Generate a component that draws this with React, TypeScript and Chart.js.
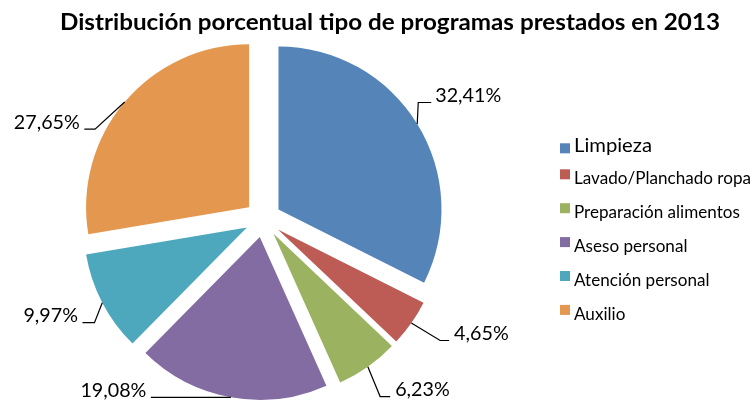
import React, { useEffect, useRef } from 'react';
import { Chart, registerables } from 'chart.js';

Chart.register(...registerables);

// ---- data ----
const title = 'Distribución porcentual tipo de programas prestados en 2013';
const categories = [
  'Limpieza',
  'Lavado/Planchado ropa',
  'Preparación alimentos',
  'Aseso personal',
  'Atención personal',
  'Auxilio',
];
const values = [32.41, 4.65, 6.23, 19.08, 9.97, 27.65];

// ---- styles ----
const colors = ['#5484B8', '#BD5C55', '#9BB360', '#836CA2', '#4EA8BD', '#E4984F'];
const EXPLODE = 18.2;
// leader line elbow (relative to slice edge) and horizontal stub length
const leaders = [
  { dx: 1, dy: -21.4, stub: 13 },
  { dx: 28.8, dy: 17.4, stub: 9 },
  { dx: 12.3, dy: 29.8, stub: 10 },
  { dx: 0, dy: 0, stub: -80 },
  { dx: -7.8, dy: 20, stub: -12 },
  { dx: -29.6, dy: 27.1, stub: -10.7 },
];
const FONT = 'Lato, "Open Sans", "Liberation Sans", sans-serif';

const fmt = (v: number) => v.toFixed(2).replace('.', ',') + '%';

function drawScaled(
  ctx: CanvasRenderingContext2D,
  text: string,
  x: number,
  y: number,
  font: string,
  k: number,
  align: CanvasTextAlign
) {
  ctx.save();
  ctx.font = font;
  ctx.translate(x, y);
  ctx.scale(k, 1);
  ctx.textAlign = align;
  ctx.textBaseline = 'alphabetic';
  ctx.fillStyle = '#000';
  ctx.fillText(text, 0, 0);
  ctx.restore();
}

function factor(ctx: CanvasRenderingContext2D, text: string, font: string, target: number) {
  ctx.save();
  ctx.font = font;
  const w = ctx.measureText(text).width;
  ctx.restore();
  return w > 0 ? target / w : 1;
}

const explodePlugin = {
  id: 'explode',
  afterDatasetUpdate(chart: any, args: any) {
    const meta = chart.getDatasetMeta(args.index);
    meta.data.forEach((arc: any) => {
      const mid = (arc.startAngle + arc.endAngle) / 2;
      arc.x += Math.cos(mid) * EXPLODE;
      arc.y += Math.sin(mid) * EXPLODE;
    });
  },
};

const decorPlugin = {
  id: 'decor',
  afterDraw(chart: any) {
    const ctx: CanvasRenderingContext2D = chart.ctx;
    // title
    const titleFont = `bold 22px ${FONT}`;
    drawScaled(ctx, title, 390, 30, titleFont, factor(ctx, title, titleFont, 660), 'center');

    // data labels with leader lines
    const labelFont = `19.5px ${FONT}`;
    const kl = factor(ctx, '27,65%', labelFont, 66);
    const meta = chart.getDatasetMeta(0);
    meta.data.forEach((arc: any, i: number) => {
      const mid = (arc.startAngle + arc.endAngle) / 2;
      const ex = arc.x + Math.cos(mid) * arc.outerRadius;
      const ey = arc.y + Math.sin(mid) * arc.outerRadius;
      const L = leaders[i];
      const bx = ex + L.dx;
      const by = ey + L.dy;
      const sx = bx + L.stub;
      ctx.save();
      ctx.strokeStyle = '#000';
      ctx.lineWidth = 1.2;
      ctx.beginPath();
      ctx.moveTo(ex, ey);
      ctx.lineTo(bx, by);
      ctx.lineTo(sx, by);
      ctx.stroke();
      ctx.restore();
      const right = L.stub > 0;
      const tx = right ? sx + (i === 0 ? 4 : 5) : sx - 4.5;
      drawScaled(ctx, fmt(values[i]), tx, by - 0.5, labelFont, kl, right ? 'left' : 'right');
    });

    // legend
    const bigFont = `18.6px ${FONT}`;
    const smallFont = `16.3px ${FONT}`;
    const kBig = factor(ctx, categories[0], bigFont, 78);
    const kSmall = factor(ctx, categories[1], smallFont, 177);
    categories.forEach((c, i) => {
      const top = i === 0 ? 143.3 : 169.3 + (i - 1) * 33.9;
      ctx.fillStyle = colors[i];
      ctx.fillRect(560, top, 10, 10);
      if (i === 0) drawScaled(ctx, c, 574, top + 8.6, bigFont, kBig, 'left');
      else drawScaled(ctx, c, 574, top + 15, smallFont, kSmall, 'left');
    });
  },
};

export default function App() {
  const ref = useRef<HTMLCanvasElement | null>(null);
  useEffect(() => {
    document.body.style.margin = '0';
    const canvas = ref.current;
    if (!canvas) return;
    const chart = new Chart(canvas, {
      type: 'pie',
      data: {
        labels: categories,
        datasets: [
          {
            data: values,
            backgroundColor: colors,
            borderWidth: 0,
            hoverOffset: 0,
            clip: false,
          } as any,
        ],
      },
      options: {
        responsive: false,
        animation: false,
        events: [],
        radius: 163,
        layout: { padding: { left: 91, right: 318, top: 47, bottom: 10 } },
        plugins: {
          legend: { display: false },
          title: { display: false },
          tooltip: { enabled: false },
        },
      } as any,
      plugins: [explodePlugin, decorPlugin],
    });
    return () => chart.destroy();
  }, []);
  return (
    <div style={{ position: 'fixed', left: 0, top: 0, width: 753, height: 401, background: '#fff' }}>
      <canvas ref={ref} width={753} height={401} style={{ width: 753, height: 401 }} />
    </div>
  );
}
